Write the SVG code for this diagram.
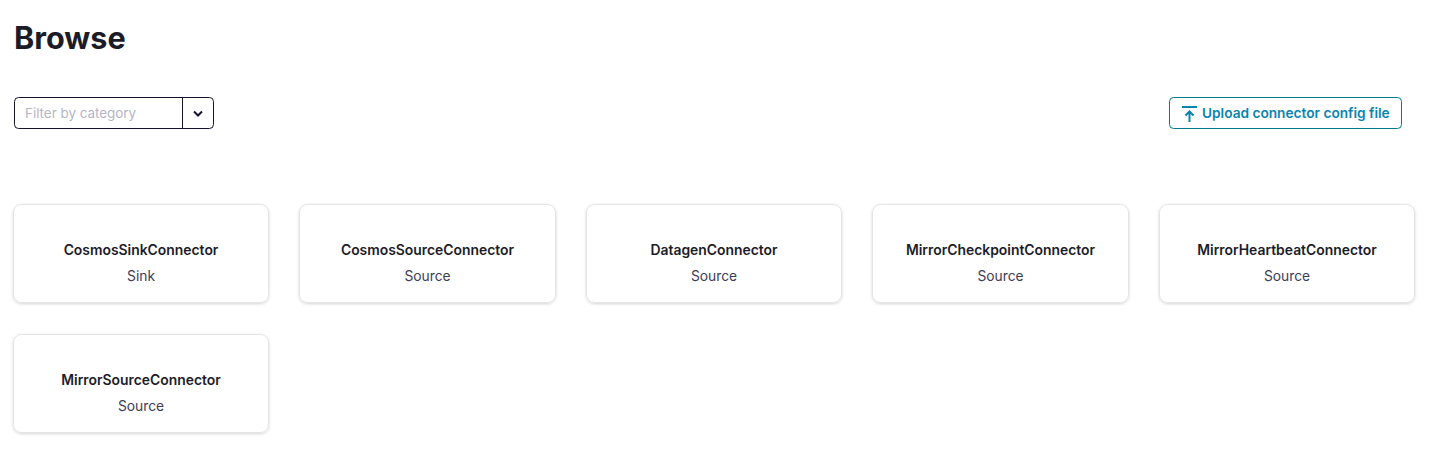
<svg xmlns="http://www.w3.org/2000/svg" width="1447" height="459" viewBox="0 0 1447 459">
<style>
text{font-family:Inter,"Liberation Sans",sans-serif}
.card{fill:#fff;stroke:#e4e4e7;stroke-width:1;filter:url(#sh)}
.n{font-size:13.900px;font-weight:600;fill:#1c1c28;text-anchor:middle}
.t{font-size:13.800px;font-weight:400;fill:#3d3d56;text-anchor:middle}
</style>
<defs><filter id="sh" x="-5%" y="-10%" width="110%" height="125%"><feDropShadow dx="0" dy="1" stdDeviation="1.500" flood-color="#000" flood-opacity="0.16"/></filter></defs>
<rect width="1447" height="459" fill="#fff"/>
<text x="14" y="49" font-size="30.600" font-weight="700" fill="#1c1c28">Browse</text>
<g id="filter">
<rect x="14.500" y="97.500" width="199" height="31" rx="4" fill="#fff" stroke="#15122f"/>
<line x1="182.500" y1="98" x2="182.500" y2="128" stroke="#15122f"/>
<text x="25" y="118" font-size="13.400" fill="#b5b5c5">Filter by category</text>
<path d="M194 111.500l4 4 4-4" fill="none" stroke="#15122f" stroke-width="2"/>
</g>
<g id="upload">
<rect x="1169.500" y="97.500" width="232" height="31" rx="4" fill="#fff" stroke="#007a8a"/>
<path d="M1182 107h15M1189.500 122v-10M1185.500 115.500l4-4 4 4" fill="none" stroke="#0a85b0" stroke-width="2"/>
<text x="1202" y="118" font-size="13.680" font-weight="600" fill="#0a85b0">Upload connector config file</text>
</g>
<g id="card1"><rect class="card" x="13.500" y="204.500" width="255" height="98" rx="8"/><text class="n" x="141" y="255">CosmosSinkConnector</text><text class="t" x="141" y="281">Sink</text></g>
<g id="card2"><rect class="card" x="299.500" y="204.500" width="256" height="98" rx="8"/><text class="n" x="427.500" y="255">CosmosSourceConnector</text><text class="t" x="427.500" y="281">Source</text></g>
<g id="card3"><rect class="card" x="586.500" y="204.500" width="255" height="98" rx="8"/><text class="n" x="714" y="255">DatagenConnector</text><text class="t" x="714" y="281">Source</text></g>
<g id="card4"><rect class="card" x="872.500" y="204.500" width="256" height="98" rx="8"/><text class="n" x="1000.500" y="255">MirrorCheckpointConnector</text><text class="t" x="1000.500" y="281">Source</text></g>
<g id="card5"><rect class="card" x="1159.500" y="204.500" width="255" height="98" rx="8"/><text class="n" x="1287" y="255">MirrorHeartbeatConnector</text><text class="t" x="1287" y="281">Source</text></g>
<g id="card6"><rect class="card" x="13.500" y="334.500" width="255" height="98" rx="8"/><text class="n" x="141" y="385">MirrorSourceConnector</text><text class="t" x="141" y="411">Source</text></g>
</svg>
